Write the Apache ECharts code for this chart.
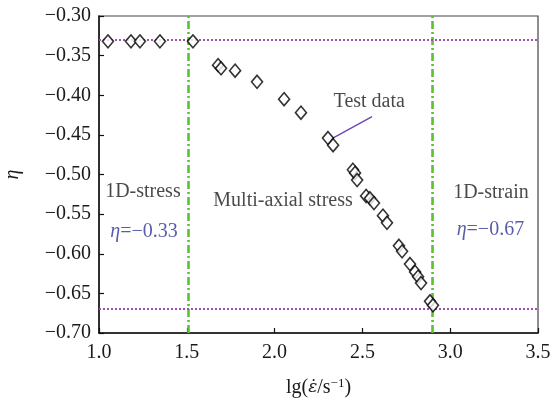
<!DOCTYPE html>
<html>
<head>
<meta charset="utf-8">
<script src="https://cdn.jsdelivr.net/npm/echarts@6/dist/echarts.min.js"></script>
<style>html,body{margin:0;padding:0;background:#fff}#c{width:557px;height:402px}</style>
</head>
<body>
<div id="c"></div>
<script>
// Data
const strainRate = [1.051, 1.182, 1.233, 1.347, 1.535, 1.678, 1.695, 1.775, 1.900, 2.054, 2.150, 2.304, 2.333, 2.446, 2.458, 2.470, 2.521, 2.543, 2.566, 2.617, 2.640, 2.708, 2.726, 2.771, 2.800, 2.817, 2.834, 2.885, 2.902];
const eta = [-0.332, -0.332, -0.332, -0.332, -0.332, -0.362, -0.366, -0.369, -0.383, -0.405, -0.422, -0.454, -0.463, -0.494, -0.498, -0.507, -0.527, -0.530, -0.536, -0.552, -0.561, -0.590, -0.597, -0.613, -0.623, -0.629, -0.637, -0.660, -0.665];
const boundaries = [1.51, 2.90];
const etaLevels = [-0.33, -0.67];
const xTicks = [1.0, 1.5, 2.0, 2.5, 3.0, 3.5];
const yTicks = [-0.30, -0.35, -0.40, -0.45, -0.50, -0.55, -0.60, -0.65, -0.70];
const annotations = [
  {text: 'Test data', x: 2.539, y: -0.408, blue: false},
  {text: '1D-stress', x: 1.25, y: -0.5215, blue: false},
  {text: 'Multi-axial stress', x: 2.048, y: -0.533, blue: false},
  {text: '1D-strain', x: 3.232, y: -0.523, blue: false},
  {text: '{i|η}=−0.33', x: 1.256, y: -0.572, blue: true},
  {text: '{i|η}=−0.67', x: 3.229, y: -0.570, blue: true}
];
const pointerLine = [[2.316, -0.456], [2.555, -0.427]];

const FONT = '"Liberation Serif", "Times New Roman", serif';
const TXT = '#1a1a1a';
const BLUE = '#2f3395';
const chart = echarts.init(document.getElementById('c'));
chart.setOption({
  animation: false,
  backgroundColor: '#fff',
  grid: {left: 99, right: 19, top: 16, bottom: 69, outerBoundsMode: 'none', containLabel: false,
    show: true, borderColor: '#444', borderWidth: 1.2, backgroundColor: 'transparent'},
  xAxis: {
    type: 'value', min: 1.0, max: 3.5, interval: 0.5,
    name: '{n|lg(}{i|ε̇}{n|/s}{s|−1}{n|)}',
    nameLocation: 'middle', nameGap: 44,
    nameTextStyle: {
      rich: {
        n: {fontFamily: FONT, fontSize: 20, color: TXT},
        i: {fontFamily: '"DejaVu Serif", serif', fontSize: 17, fontStyle: 'italic', color: TXT},
        s: {fontFamily: FONT, fontSize: 13, color: TXT, padding: [0, 0, 9, 0]}
      }
    },
    axisLine: {lineStyle: {color: '#111', width: 1.5}},
    axisTick: {inside: true, length: 5, lineStyle: {color: '#111', width: 1.2}},
    splitLine: {show: false},
    axisLabel: {fontFamily: FONT, fontSize: 20, color: TXT, margin: 10, formatter: v => v.toFixed(1)}
  },
  yAxis: {
    type: 'value', min: -0.70, max: -0.30, interval: 0.05,
    name: 'η', nameLocation: 'middle', nameGap: 76, nameRotate: 90,
    nameTextStyle: {fontFamily: FONT, fontSize: 20, fontStyle: 'italic', color: TXT},
    axisLine: {lineStyle: {color: '#111', width: 1.5}},
    axisTick: {inside: true, length: 5, lineStyle: {color: '#111', width: 1.2}},
    splitLine: {show: false},
    axisLabel: {fontFamily: FONT, fontSize: 20, color: TXT, margin: 8,
      formatter: v => (v < 0 ? '−' : '') + Math.abs(v).toFixed(2)}
  },
  series: [
    {
      type: 'scatter',
      data: strainRate.map((x, i) => [x, eta[i]]),
      symbol: 'diamond', symbolSize: [11, 13],
      itemStyle: {color: '#fff', borderColor: '#000', borderWidth: 1.6},
      z: 5,
      markLine: {
        silent: true, symbol: 'none', animation: false,
        label: {show: false},
        data: [
          ...boundaries.map(v => ({xAxis: v, lineStyle: {color: '#5cc02c', width: 2.6, type: [8, 3, 2, 3]}})),
          ...etaLevels.map(v => ({yAxis: v, lineStyle: {color: '#a14fb3', width: 2, type: [2, 2]}})),
          [{coord: pointerLine[0], lineStyle: {color: '#6a45b5', width: 1.3, type: 'solid'}}, {coord: pointerLine[1]}]
        ]
      }
    },
    {
      type: 'scatter',
      data: annotations.map(a => ({value: [a.x, a.y], name: a.text,
        label: {color: a.blue ? BLUE : TXT}})),
      symbolSize: 0, silent: true, z: 6,
      label: {
        show: true, position: 'inside',
        formatter: p => p.name,
        fontFamily: FONT, fontSize: 20,
        rich: {i: {fontFamily: FONT, fontSize: 20, fontStyle: 'italic', color: BLUE}}
      }
    }
  ]
});
</script>
</body>
</html>
